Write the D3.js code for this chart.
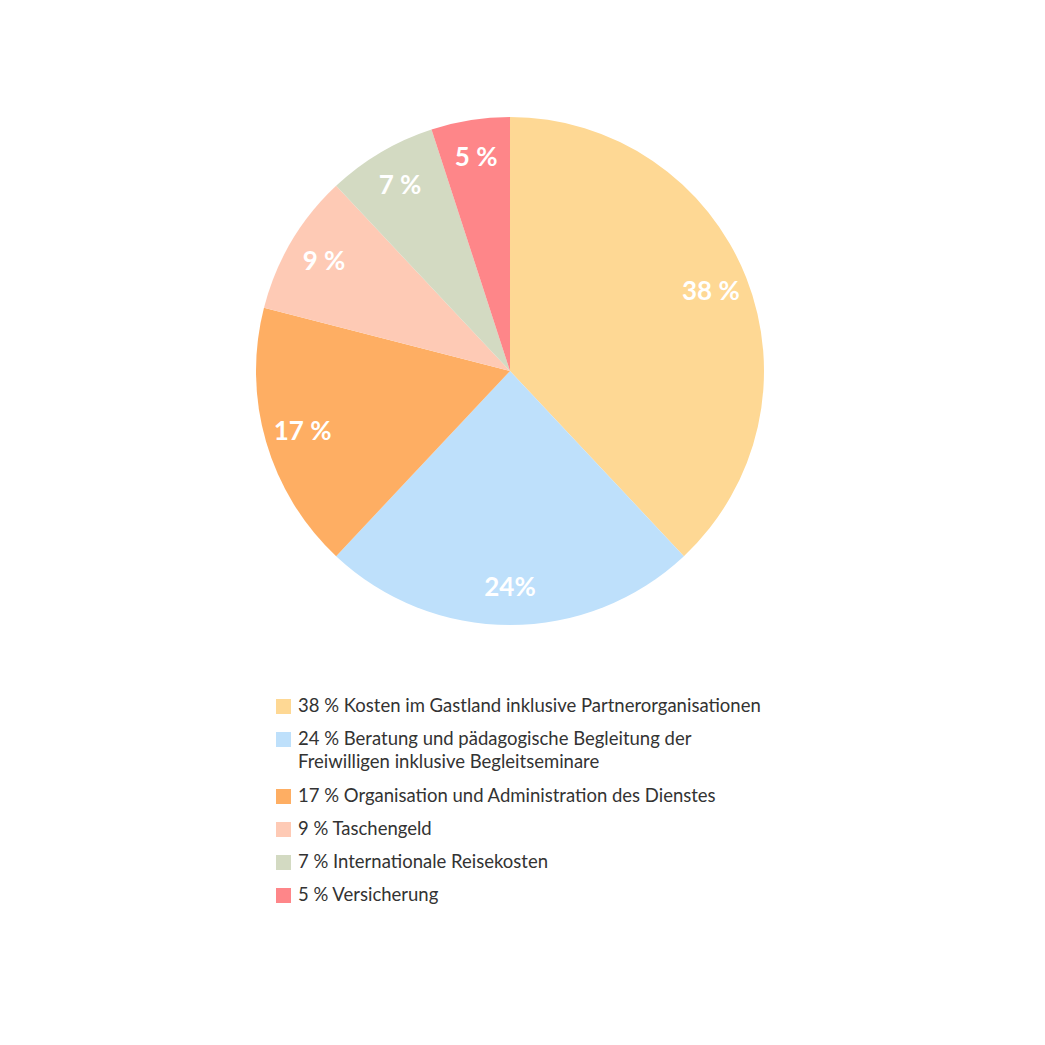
<!DOCTYPE html>
<html>
<head>
<meta charset="utf-8">
<script src="https://cdn.jsdelivr.net/npm/d3@7"></script>
<style>
  body { margin: 0; background: #fff; }
  svg { display: block; }
</style>
</head>
<body>
<div id="chart"></div>
<script>
// data
const shares = [38, 24, 17, 9, 7, 5];
const sliceLabels = ["38 %", "24%", "17 %", "9 %", "7 %", "5 %"];
const legendLabels = [
    ["38 % Kosten im Gastland inklusive Partnerorganisationen"],
    ["24 % Beratung und pädagogische Begleitung der", "Freiwilligen inklusive Begleitseminare"],
    ["17 % Organisation und Administration des Dienstes"],
    ["9 % Taschengeld"],
    ["7 % Internationale Reisekosten"],
    ["5 % Versicherung"]
];
const colors = ["#fed894", "#bee0fb", "#feae63", "#fecab5", "#d3dac2", "#fe8689"];

const width = 1045, height = 1045;
const cx = 510, cy = 371, radius = 254;
const font = "Lato, 'Open Sans', sans-serif";

const svg = d3.select("#chart").append("svg")
    .attr("width", width)
    .attr("height", height);

const pie = d3.pie().sort(null).value(d => d);
const arc = d3.arc().innerRadius(0).outerRadius(radius);
const labelArc = d3.arc().innerRadius(216).outerRadius(216);

const g = svg.append("g")
    .attr("transform", "translate(" + cx + "," + cy + ")");

const arcs = pie(shares);

g.selectAll("path")
    .data(arcs)
    .join("path")
    .attr("d", arc)
    .attr("fill", (d, i) => colors[i]);

g.selectAll("text")
    .data(arcs)
    .join("text")
    .attr("transform", d => "translate(" + labelArc.centroid(d) + ")")
    .attr("text-anchor", "middle")
    .attr("dy", "0.33em")
    .style("font-family", font)
    .style("font-weight", "700")
    .style("font-size", "26px")
    .attr("fill", "#fff")
    .text((d, i) => sliceLabels[i]);

// legend
const legendX = 276;
let y = 699;
const legend = svg.append("g");

legendLabels.forEach((lines, i) => {
    const row = legend.append("g").attr("transform", "translate(" + legendX + "," + y + ")");
    row.append("rect")
        .attr("width", 15)
        .attr("height", 15)
        .attr("fill", colors[i]);
    const t = row.append("text")
        .attr("x", 22)
        .attr("y", 13)
        .style("font-family", font)
        .style("font-size", "18.5px")
        .attr("fill", "#333");
    lines.forEach((line, j) => {
        t.append("tspan")
            .attr("x", 22)
            .attr("dy", j === 0 ? 0 : 23)
            .text(line);
    });
    y += 33 + (lines.length - 1) * 24;
});
</script>
</body>
</html>
